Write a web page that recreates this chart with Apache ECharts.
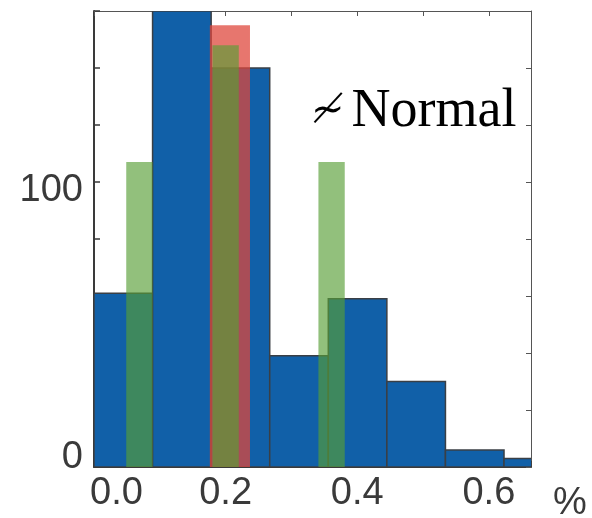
<!DOCTYPE html>
<html>
<head>
<meta charset="utf-8">
<script src="https://cdn.jsdelivr.net/npm/echarts@6/dist/echarts.min.js"></script>
<style>html,body{margin:0;padding:0;background:#fff;}#c{width:592px;height:518px;}</style>
</head>
<body>
<div id="c"></div>
<script>
// Histogram bins (x in %), counts
const blueEdges = [0, 0.089, 0.178, 0.267, 0.356, 0.445, 0.534, 0.623, 0.712];
const blueCounts = [61, 160, 140, 39, 59, 30, 6, 3];
const greenLeft = [0.049, 0.18, 0.341];
const greenRight = [0.089, 0.22, 0.381];
const greenCounts = [107, 148, 107];
const redLeft = [0.176];
const redRight = [0.237];
const redCounts = [155];
const xTickLabels = ['0.0', '0.2', '0.4', '0.6'];
const yTickLabels = ['0', '100'];
const annotationSymbol = '\u2241';
const annotationWord = 'Normal';

const blueData = blueCounts.map((c, i) => [blueEdges[i], blueEdges[i + 1], c]);
const greenData = greenCounts.map((c, i) => [greenLeft[i], greenRight[i], c]);
const redData = redCounts.map((c, i) => [redLeft[i], redRight[i], c]);

function makeRender(style) {
  return function (params, api) {
    const p0 = api.coord([api.value(0), 0]);
    const p1 = api.coord([api.value(1), api.value(2)]);
    return {
      type: 'rect',
      shape: { x: p0[0], y: p1[1], width: p1[0] - p0[0], height: p0[1] - p1[1] },
      style: style
    };
  };
}

const axisColor = '#3a3a3a';
const sans = 'Liberation Sans, Arial, sans-serif';
const chart = echarts.init(document.getElementById('c'));
chart.setOption({
  animation: false,
  backgroundColor: '#fff',
  title: {
    text: '{sym|' + annotationSymbol + '}{w|' + annotationWord + '}',
    left: 306,
    top: 80,
    textStyle: {
      fontWeight: 'normal',
      rich: {
        sym: { fontFamily: 'DejaVu Serif, serif', fontWeight: 'normal', fontSize: 40, color: '#000', padding: [0, 7, 0, 0] },
        w: { fontFamily: 'Liberation Serif, Times New Roman, serif', fontWeight: 'normal', fontSize: 54, color: '#000' }
      }
    }
  },
  grid: { left: 94, right: 61, top: 11, bottom: 51, outerBoundsMode: 'none', containLabel: false },
  xAxis: [{
    type: 'value', min: 0, max: 0.664, interval: 0.1, position: 'bottom',
    name: '%', nameLocation: 'end', nameGap: 22,
    nameTextStyle: { fontFamily: sans, fontSize: 38, color: axisColor, verticalAlign: 'top', padding: [18, 0, 0, 0] },
    axisLine: { show: true, onZero: false, lineStyle: { color: axisColor, width: 2 } },
    axisTick: { show: true, inside: true, length: 6, lineStyle: { color: axisColor, width: 1.5 } },
    splitLine: { show: false },
    axisLabel: {
      margin: 8,
      fontFamily: sans, fontSize: 38, color: axisColor,
      formatter: function (v) {
        const s = v.toFixed(1);
        if (s === xTickLabels[0]) return '{first|' + s + '}';
        return xTickLabels.indexOf(s) >= 0 ? s : '';
      },
      rich: { first: { fontFamily: sans, fontSize: 38, color: axisColor, padding: [0, 0, 0, 45] } }
    }
  }, {
    type: 'value', min: 0, max: 0.664, interval: 0.1, position: 'top',
    axisLine: { show: true, onZero: false, lineStyle: { color: '#555', width: 1 } },
    axisTick: { show: true, inside: true, length: 5, lineStyle: { color: '#555', width: 1 } },
    axisLabel: { show: false }, splitLine: { show: false }
  }],
  yAxis: [{
    type: 'value', min: 0, max: 160, interval: 20, position: 'left',
    axisLine: { show: true, onZero: false, lineStyle: { color: axisColor, width: 2 } },
    axisTick: { show: true, inside: true, length: 6, lineStyle: { color: axisColor, width: 1.5 } },
    splitLine: { show: false },
    axisLabel: {
      margin: 11,
      fontFamily: sans, fontSize: 38, color: axisColor,
      formatter: function (v) {
        const s = String(v);
        if (s === yTickLabels[0]) return '{t|' + s + '}\n{sp| }';
        if (s === yTickLabels[1]) return '{sp| }\n{t|' + s + '}';
        return '';
      },
      rich: {
        t: { fontFamily: sans, fontSize: 38, color: axisColor, lineHeight: 40 },
        sp: { fontSize: 2, lineHeight: 18 }
      }
    }
  }, {
    type: 'value', min: 0, max: 160, interval: 20, position: 'right',
    axisLine: { show: true, onZero: false, lineStyle: { color: '#555', width: 1 } },
    axisTick: { show: true, inside: true, length: 5, lineStyle: { color: '#555', width: 1 } },
    axisLabel: { show: false }, splitLine: { show: false }
  }],
  series: [{
    type: 'custom', clip: true, xAxisIndex: 0, yAxisIndex: 0,
    renderItem: makeRender({ fill: '#1160A8', stroke: '#3a3f45', lineWidth: 1.5 }),
    data: blueData, z: 1
  }, {
    type: 'custom', clip: true, xAxisIndex: 0, yAxisIndex: 0,
    renderItem: makeRender({ fill: 'rgba(222,70,60,0.74)' }),
    data: redData, z: 2
  }, {
    type: 'custom', clip: true, xAxisIndex: 0, yAxisIndex: 0,
    renderItem: makeRender({ fill: 'rgba(88,158,54,0.65)' }),
    data: greenData, z: 3
  }]
});
</script>
</body>
</html>
